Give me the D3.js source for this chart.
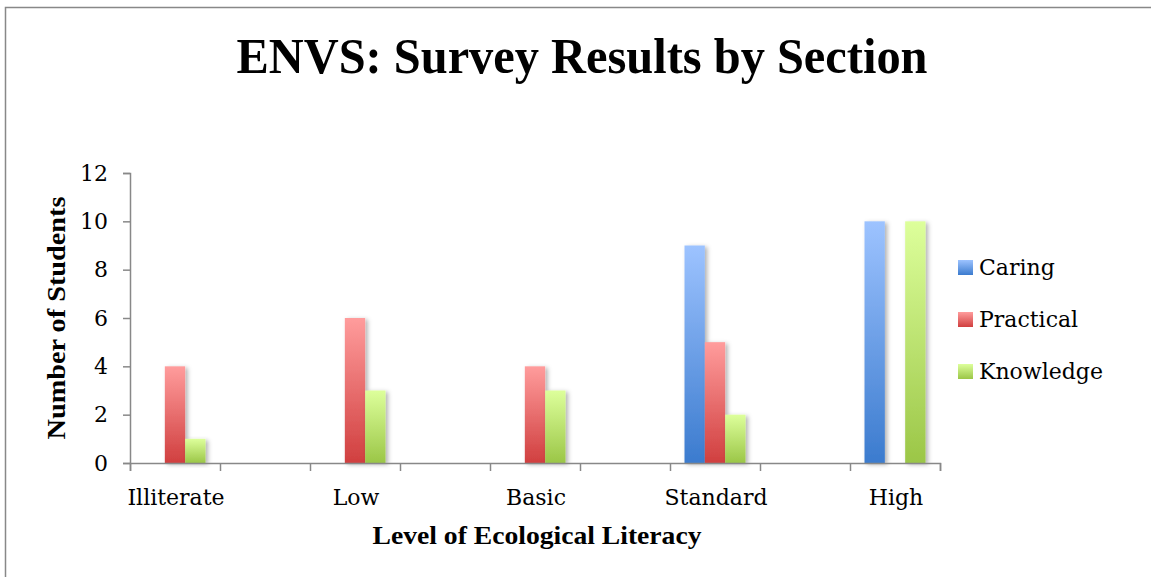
<!DOCTYPE html>
<html>
<head>
<meta charset="utf-8">
<script src="https://cdn.jsdelivr.net/npm/d3@7"></script>
<style>
  html, body { margin: 0; padding: 0; background: #fff; }
  svg { display: block; }
  text { font-family: "DejaVu Serif", "Liberation Serif", serif; fill: #000; }
  .heading { font-family: "Liberation Serif", "DejaVu Serif", serif; font-weight: bold; }
</style>
</head>
<body>
<svg id="chart" width="1151" height="577"></svg>
<script>
// Survey counts per literacy level, one array per section
const levels = ["Illiterate", "Low", "Basic", "Standard", "High"];
const sections = ["Caring", "Practical", "Knowledge"];
const caring = [0, 0, 0, 9, 10];
const practical = [4, 6, 4, 5, 0];
const knowledge = [1, 3, 3, 2, 10];
const yTicks = [0, 2, 4, 6, 8, 10, 12];

const values = { Caring: caring, Practical: practical, Knowledge: knowledge };
const palette = {
  Caring: ["#9dc3ff", "#3b7bce"],
  Practical: ["#ff9c9c", "#d03f3f"],
  Knowledge: ["#ddff9b", "#9bc647"]
};

const svg = d3.select("#chart");
const W = 1151, H = 577;
const plot = { left: 130, right: 940, top: 173, bottom: 463 };

// Outer frame (only top and left edges fall inside the view)
svg.append("rect")
  .attr("x", 5.5).attr("y", 7.5)
  .attr("width", W + 20).attr("height", H + 20)
  .attr("fill", "none").attr("stroke", "#888").attr("stroke-width", 1.5);

const defs = svg.append("defs");
sections.forEach(s => {
  const g = defs.append("linearGradient")
    .attr("id", "grad-" + s).attr("x1", 0).attr("y1", 0).attr("x2", 0).attr("y2", 1);
  g.append("stop").attr("offset", "0%").attr("stop-color", palette[s][0]);
  g.append("stop").attr("offset", "100%").attr("stop-color", palette[s][1]);
});
const shadow = defs.append("filter").attr("id", "shadow")
  .attr("x", "-50%").attr("y", "-10%").attr("width", "200%").attr("height", "130%");
shadow.append("feDropShadow")
  .attr("dx", 2.5).attr("dy", 1.5).attr("stdDeviation", 2)
  .attr("flood-color", "#000").attr("flood-opacity", 0.3);

// Nine axis slots: each level is followed by an empty spacer slot
const slots = [];
levels.forEach((lv, i) => {
  slots.push(lv);
  if (i < levels.length - 1) slots.push("gap" + i);
});

const x = d3.scaleBand().domain(slots).range([plot.left, plot.right]).padding(0);
const groupW = 61;
const x1 = d3.scaleBand().domain(sections).range([0, groupW]).padding(0);
const y = d3.scaleLinear().domain([0, 12]).range([plot.bottom, plot.top]);

// Title
svg.append("text")
  .attr("class", "heading")
  .attr("x", 582).attr("y", 73)
  .attr("text-anchor", "middle")
  .attr("font-size", 51)
  .attr("textLength", 691).attr("lengthAdjust", "spacingAndGlyphs")
  .text("ENVS: Survey Results by Section");

// Bars
const bars = [];
levels.forEach((lv, i) => {
  sections.forEach(s => {
    const v = values[s][i];
    if (v > 0) bars.push({ level: lv, section: s, value: v });
  });
});

svg.append("g").selectAll("rect")
  .data(bars)
  .join("rect")
  .attr("x", d => x(d.level) + (x.bandwidth() - groupW) / 2 + x1(d.section))
  .attr("y", d => y(d.value))
  .attr("width", x1.bandwidth())
  .attr("height", d => y(0) - y(d.value))
  .attr("fill", d => "url(#grad-" + d.section + ")")
  .attr("filter", "url(#shadow)");

// Y axis
const yAxis = svg.append("g")
  .attr("transform", `translate(${plot.left},0)`)
  .call(d3.axisLeft(y).tickValues(yTicks).tickSize(7).tickPadding(15).tickFormat(d3.format("d")));
yAxis.select(".domain").attr("stroke", "#888").attr("stroke-width", 1.5);
yAxis.selectAll(".tick line").attr("stroke", "#888").attr("stroke-width", 1.5);
yAxis.selectAll(".tick text")
  .attr("font-family", "DejaVu Serif").attr("font-size", 22).attr("fill", "#000");

// X axis: ticks on slot boundaries
const xEdges = d3.scaleLinear().domain([0, slots.length]).range([plot.left, plot.right]);
const xAxis = svg.append("g")
  .attr("transform", `translate(0,${plot.bottom})`)
  .call(d3.axisBottom(xEdges).tickValues(d3.range(slots.length + 1)).tickSize(8).tickFormat(""));
xAxis.select(".domain").attr("stroke", "#888").attr("stroke-width", 1.5);
xAxis.selectAll(".tick line").attr("stroke", "#888").attr("stroke-width", 1.5);

// Category labels
svg.append("g").selectAll("text")
  .data(levels)
  .join("text")
  .attr("x", d => x(d) + x.bandwidth() / 2 + 1)
  .attr("y", 505)
  .attr("text-anchor", "middle")
  .attr("font-size", 22)
  .text(d => d);

// Axis titles
svg.append("text")
  .attr("class", "heading")
  .attr("x", 537).attr("y", 544)
  .attr("text-anchor", "middle")
  .attr("font-size", 26)
  .attr("textLength", 329).attr("lengthAdjust", "spacingAndGlyphs")
  .text("Level of Ecological Literacy");

svg.append("text")
  .attr("class", "heading")
  .attr("transform", "translate(65,318) rotate(-90)")
  .attr("text-anchor", "middle")
  .attr("font-size", 26)
  .attr("textLength", 243).attr("lengthAdjust", "spacingAndGlyphs")
  .text("Number of Students");

// Legend
const legend = svg.append("g").attr("transform", "translate(958,260)");
const li = legend.selectAll("g")
  .data(sections)
  .join("g")
  .attr("transform", (d, i) => `translate(0,${i * 52})`);
li.append("rect")
  .attr("width", 15).attr("height", 15)
  .attr("fill", d => "url(#grad-" + d + ")");
li.append("text")
  .attr("x", 21).attr("y", 15)
  .attr("font-size", 22)
  .text(d => d);
</script>
</body>
</html>
